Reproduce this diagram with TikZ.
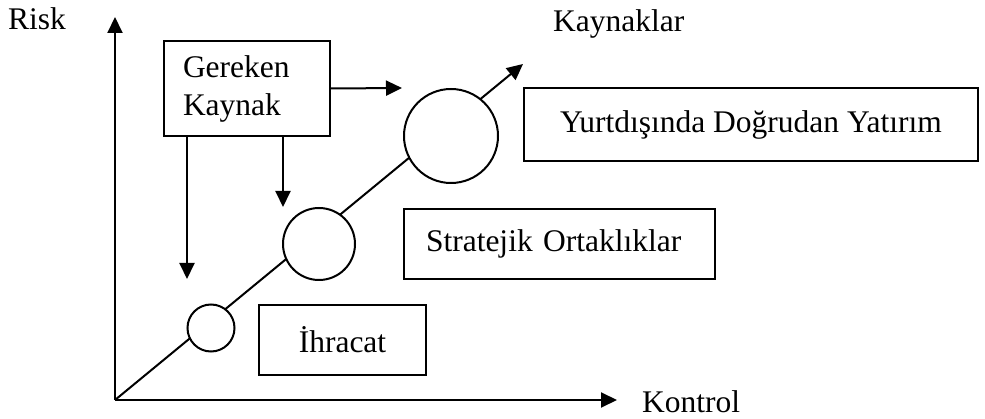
\documentclass[tikz,border=0pt]{standalone}
\usepackage{fontspec}
\setmainfont{Liberation Serif}
\usetikzlibrary{arrows.meta}
\begin{document}
\begin{tikzpicture}[x=1pt,y=-1pt,
  box/.style={draw, line width=2pt, inner ysep=0pt, align=left, font=\fontsize{31.5}{38}\selectfont},
  lbl/.style={inner sep=0pt, font=\fontsize{31.5}{38}\selectfont},
  circ/.style={draw, circle, fill=white, line width=2pt, inner sep=0pt},
  arr/.style={line width=2pt, -{Triangle[length=16pt,width=15pt]}}]
\useasboundingbox (0,0) rectangle (985,419);
% axes and diagonal
\coordinate (O) at (115,400);
\coordinate (ytip) at (115,17);
\coordinate (xtip) at (617,400);
\coordinate (dtip) at (523,64);
\draw[arr] (O) -- (ytip);
\draw[arr] (O) -- (xtip);
\draw[arr] (O) -- (dtip);
% circles
\node[circ, minimum size=47pt] (c1) at (211,328) {};
\node[circ, minimum size=72pt] (c2) at (319,244) {};
\node[circ, minimum size=94pt] (c3) at (451,136) {};
% boxes
\node[box, minimum width=166pt, minimum height=95pt, text width=128pt, inner xsep=19pt] (G) at (247,88.5) {Gereken\\Kaynak};
\node[box, minimum width=454pt, minimum height=73pt, align=center] (Y) at (751,124.5) {Yurtdışında Doğrudan Yatırım};
\node[box, minimum width=311pt, minimum height=70pt, text width=267pt, inner xsep=22pt] (S) at (559.5,244) {Stratejik Ortaklıklar};
\node[box, minimum width=167pt, minimum height=70pt, align=center] (I) at (342.5,340) {İhracat};
% arrows from Gereken Kaynak
\coordinate (gtip) at (402,88);
\coordinate (d1) at (187,279);
\coordinate (d2) at (283,207);
\draw[arr] (G.east) -- (gtip);
\draw[arr] (G.south -| d1) -- (d1);
\draw[arr] (G.south -| d2) -- (d2);
% axis labels
\node[lbl, anchor=base west] (risk) at (8,30) {Risk};
\node[lbl, anchor=base west] (kay) at (553,32) {Kaynaklar};
\node[lbl, anchor=base west] (kon) at (642,413) {Kontrol};
\end{tikzpicture}
\end{document}
